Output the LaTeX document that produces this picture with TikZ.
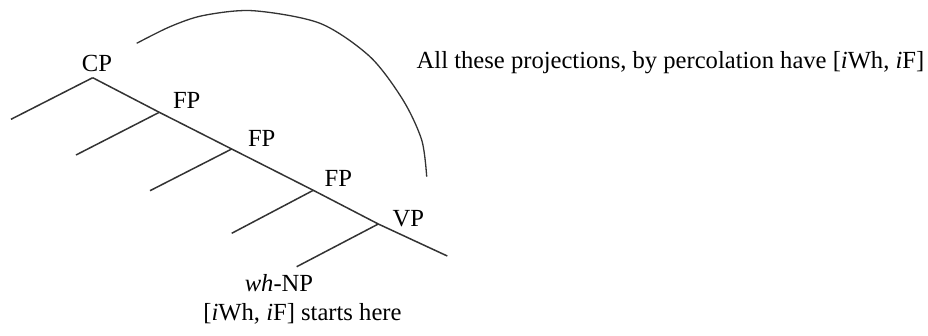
\documentclass[tikz,border=0pt]{standalone}
\usepackage{fontspec}
\setmainfont{Liberation Serif}
\begin{document}
\begin{tikzpicture}[x=1pt,y=-1pt,
  lbl/.style={inner sep=0pt,anchor=base,font=\fontsize{24.6}{28}\selectfont},
  branch/.style={draw=black!80,line width=1.5pt},
  arcline/.style={draw=black!80,line width=1.3pt}]
\useasboundingbox (0,0) rectangle (928,335);
% junctions
\coordinate (cp) at (92.7,77.7);
\coordinate (fp1) at (159.3,112.3);
\coordinate (fp2) at (231.7,149);
\coordinate (fp3) at (313.3,190.3);
\coordinate (vp) at (378.3,224);
\coordinate (end) at (447.3,256);
% left leaves
\coordinate (l0) at (11,119.3);
\coordinate (l1) at (76,155);
\coordinate (l2) at (150,190.7);
\coordinate (l3) at (231.7,233.3);
\coordinate (l4) at (296.7,266.7);
% labels
\node[lbl] (CP) at (97,71.7) {CP};
\node[lbl] (FPa) at (186.7,108.3) {FP};
\node[lbl] (FPb) at (261.7,146.7) {FP};
\node[lbl] (FPc) at (338.3,186.7) {FP};
\node[lbl] (VP) at (408.3,226.7) {VP};
\node[lbl] (wh) at (279,291.7) {\textit{wh}-NP};
\node[lbl] (start) at (302.5,320) {[\textit{i}Wh, \textit{i}F] starts here};
\node[lbl] (all) at (670.5,68.3) {All these projections, by percolation have [\textit{i}Wh, \textit{i}F]};
% tree
\draw[branch] (cp) -- (fp1) -- (fp2) -- (fp3) -- (vp) -- (end);
\draw[branch] (cp) -- (l0);
\draw[branch] (fp1) -- (l1);
\draw[branch] (fp2) -- (l2);
\draw[branch] (fp3) -- (l3);
\draw[branch] (vp) -- (l4);
% arc
\draw[arcline] plot[smooth] coordinates {(136.7,43.3) (170,26.7) (203.3,15.5) (253,10.7) (320,23.3) (370,56.7) (403,100) (421.7,140) (426.7,176.7)};
\end{tikzpicture}
\end{document}
